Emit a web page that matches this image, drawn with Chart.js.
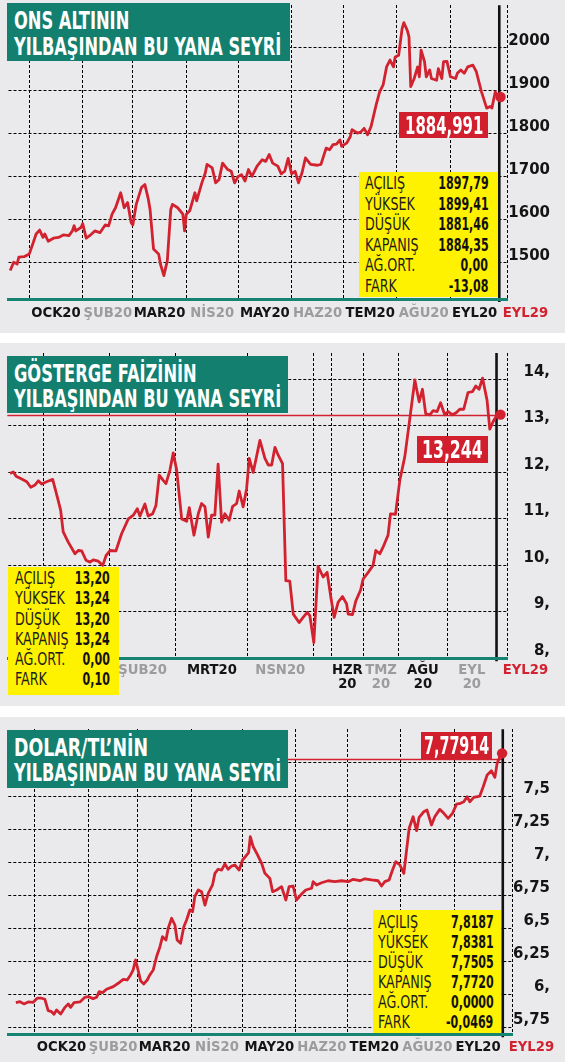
<!DOCTYPE html>
<html><head><meta charset="utf-8">
<script src="https://cdn.jsdelivr.net/npm/chart.js@4.4.1/dist/chart.umd.min.js"></script>
<style>
html,body{margin:0;padding:0;background:#fff;}
#wrap{position:relative;width:565px;height:1062px;overflow:hidden;}
.panel{position:absolute;left:0;width:565px;background:#eaeaec;}
.panel canvas{position:absolute;left:0;top:0;}
.ov{position:absolute;overflow:visible;}
.title{background:#137f6e;}
.yb{background:#fff200;}
.tag{background:#d21f2e;}
.tx{position:absolute;white-space:nowrap;line-height:1;}
</style></head><body>
<div id="wrap">
 <div class="panel" id="p1" style="top:0;height:333px"><canvas id="c1" width="565" height="333"></canvas></div>
 <div class="panel" id="p2" style="top:343px;height:363px"><canvas id="c2" width="565" height="363"></canvas></div>
 <div class="panel" id="p3" style="top:717px;height:345px"><canvas id="c3" width="565" height="345"></canvas></div>
</div>
<script>
// ---------------- DATA ----------------
// Panel 1: ons altın (day index, 0 = 1 Ocak 2020)
const goldDays = [
-11,-9,-7,-6,-3,0,2,4,6,8,
9,11,14,17,20,23,25,26,27,30,
31,33,35,38,41,44,46,48,50,53,
55,57,59,60,62,65,67,69,70,72,
75,76,78,80,82,83,86,89,90,91,
93,96,97,100,102,103,106,108,110,112,
115,117,119,121,123,125,127,129,132,135,
137,139,141,144,146,148,150,152,154,156,
158,160,163,167,169,172,174,176,178,180,
181,184,186,187,190,192,194,196,198,201,
203,205,207,209,211,212,214,216,217,219,
220,221,223,225,226,227,229,230,232,233,
236,237,239,240,242,244,247,248,250,252,
254,257,259,260,262,265,267,268,270,272,
273];
const goldVals = [
1481,1500,1496,1512,1513,1519,1542,1566,1575,1558,
1566,1549,1556,1558,1564,1562,1573,1585,1573,1581,
1590,1556,1562,1573,1569,1587,1585,1612,1627,1662,
1627,1639,1593,1587,1635,1674,1681,1647,1623,1531,
1519,1496,1469,1504,1623,1635,1627,1612,1573,1612,
1620,1662,1643,1685,1708,1728,1720,1685,1693,1731,
1716,1712,1685,1700,1704,1689,1716,1700,1724,1739,
1735,1751,1731,1724,1706,1712,1742,1706,1712,1685,
1708,1743,1728,1726,1728,1766,1762,1774,1775,1785,
1770,1778,1793,1809,1801,1803,1812,1797,1816,1867,
1897,1913,1955,1971,1955,1978,1982,2044,2058,2040,
2025,1909,1928,1955,1932,1994,1967,1932,1948,1928,
1924,1951,1928,1967,1968,1932,1928,1940,1948,1940,
1955,1959,1944,1928,1897,1859,1863,1859,1897,1882,
1884.99];
const goldNow = 272.3;
const goldLastText = '1884,991';
const goldYTicks = [1500,1600,1700,1800,1900,2000];
const goldYLabels = ['1500','1600','1700','1800','1900','2000'];
const goldStats = ['1897,79','1899,41','1881,46','1884,35','0,00','-13,08'];

// month axis shared by panels 1 and 3 (days)
const monthStarts = [0,31,60,91,121,152,182,213,244];
const monthMids = [15.5,45.5,75.5,106,136.5,167,197.5,228.5,258];
const monthLabels = ['OCK20','ŞUB20','MAR20','NİS20','MAY20','HAZ20','TEM20','AĞU20','EYL20'];
const monthShade = ['k','g','k','g','k','g','k','g','k'];

// Panel 2: gösterge faiz (position along its own time axis)
const bondPos = [
-11.0,-9.1,-7.5,-4.8,-1.3,1.0,3.5,5.4,7.3,10.2,
13.7,16.4,18.3,19.8,22.7,26.6,28.5,30.5,33.0,35.3,
37.2,40.1,42.7,44.6,46.9,50.3,53.6,57.5,60.4,62.7,
64.2,67.1,69.0,71.6,73.5,75.4,77.7,79.3,81.6,83.5,
85.5,88.4,91.3,92.8,95.5,98.0,99.9,101.9,103.8,105.7,
107.6,109.5,111.5,113.4,115.9,117.9,120.2,121.7,124.0,126.0,
127.5,129.8,133.7,136.6,138.5,140.5,142.4,144.3,146.8,148.7,
151.0,153.0,156.4,158.7,161.1,162.6,164.9,167.4,170.3,172.6,
174.8,176.7,179.0,181.5,183.9,184.8,187.3,189.2,192.0,193.5,
196.4,199.2,200.8,203.1,205.0,207.9,209.3,212.2,214.7,217.6,
220.9,223.4,225.9,227.8,229.7,232.1,234.0,236.3,238.3,240.7,
242.7,245.2,247.5,249.4,251.7,254.2,256.8,258.7,260.6,262.6,
265.2,266.8,268.7,270.7,273.0];
const bondVals = [
11.98,12.01,11.92,11.87,11.80,11.68,11.73,11.82,11.75,11.80,
11.85,11.47,11.19,10.72,10.50,10.25,10.32,10.31,10.11,10.07,
10.12,10.09,10.00,10.21,10.32,10.31,10.68,11.00,11.08,11.22,
11.06,11.32,11.06,11.11,11.29,11.94,11.83,11.76,12.05,12.42,
12.05,11.00,10.95,11.24,10.65,11.11,11.33,11.26,10.61,11.08,
11.08,12.18,10.93,11.11,10.97,11.27,11.33,11.60,11.26,11.65,
12.30,12.00,12.69,12.30,12.16,12.16,12.54,12.37,12.19,9.67,
9.66,8.95,8.77,8.88,8.99,8.92,8.34,9.98,9.75,9.85,
9.31,8.88,9.21,9.33,9.17,8.95,8.94,9.23,9.47,9.71,
9.85,10.00,10.32,10.25,10.39,10.65,11.11,11.10,11.83,12.34,
13.27,13.99,13.52,13.79,13.26,13.24,13.33,13.31,13.50,13.24,
13.31,13.24,13.29,13.36,13.36,13.72,13.74,13.86,13.79,14.03,
13.56,12.93,13.09,13.22,13.244];
const bondNow = 270.7;
const bondLast = 13.244;
const bondLastText = '13,244';
const bondYTicks = [8,9,10,11,12,13,14];
const bondYLabels = ['8,','9,','10,','11,','12,','13,','14,'];
const bondMonthStarts = [8.3,46.5,85.1,126.6,164.5,175.2,193.5,214.1,242.1];
const bondMonthMids = [65.8,105.9,145.5,184.3,203.8,228.1,256.4];
const bondMonthLabels = ['ŞUB20','MRT20','NSN20',['HZR','20'],['TMZ','20'],['AĞU','20'],['EYL','20']];
const bondMonthShade = ['g','k','g','k','g','k','g'];
const bondStats = ['13,20','13,24','13,20','13,24','0,00','0,10'];

// Panel 3: dolar/TL (days)
const usdDays = [
-11.1,-8.7,-6.4,-3.9,-1.0,1.3,3.9,5.8,7.7,9.7,
11.1,12.6,15.0,17.5,19.4,20.8,22.7,26.2,29.1,31.0,
33.9,35.9,37.4,39.4,41.7,45.6,48.5,51.4,53.7,55.7,
57.2,58.6,59.8,61.5,63.4,65.4,66.9,68.9,70.8,72.8,
74.3,76.3,77.6,79.6,81.5,82.8,84.8,86.7,88.3,90.2,
91.8,93.1,95.1,97.0,99.0,100.9,103.4,104.8,106.7,108.7,
110.6,112.5,114.5,116.4,118.9,120.9,122.8,124.4,125.4,127.1,
129.4,132.0,133.9,136.8,138.4,140.7,143.6,146.1,148.0,150.3,
152.3,154.7,157.7,161.1,162.0,164.0,166.9,170.7,174.6,178.5,
182.4,185.3,189.2,192.1,196.0,199.8,201.8,203.7,206.2,208.2,
210.1,212.5,214.8,216.4,217.9,220.2,222.2,223.7,226.4,228.3,
230.9,232.8,235.7,238.1,240.6,243.1,245.5,247.8,249.7,251.6,
253.2,255.5,259.0,260.9,263.3,265.8,267.8,269.1,270.7,272.0];
const usdVals = [
5.936,5.944,5.927,5.942,5.939,5.970,5.970,5.962,5.876,5.868,
5.849,5.881,5.851,5.901,5.927,5.901,5.936,5.942,5.977,5.982,
5.967,5.977,6.020,6.012,6.038,6.058,6.083,6.113,6.108,6.146,
6.184,6.259,6.197,6.103,6.078,6.108,6.146,6.184,6.284,6.360,
6.436,6.411,6.499,6.575,6.524,6.411,6.386,6.511,6.562,6.638,
6.625,6.738,6.789,6.776,6.675,6.764,6.827,6.915,6.946,6.940,
6.986,6.946,6.970,6.978,6.940,7.016,7.046,7.071,7.192,7.116,
7.061,6.991,6.915,6.877,6.776,6.789,6.814,6.713,6.814,6.819,
6.713,6.751,6.789,6.802,6.852,6.827,6.844,6.859,6.852,6.859,
6.852,6.870,6.859,6.874,6.865,6.859,6.819,6.852,6.865,6.940,
7.003,6.978,6.915,7.092,7.256,7.343,7.238,7.339,7.381,7.394,
7.281,7.343,7.399,7.369,7.331,7.369,7.439,7.445,7.457,7.495,
7.457,7.490,7.500,7.566,7.659,7.691,7.641,7.747,7.797,7.823];
const usdNow = 272.4;
const usdLast = 7.77914;
const usdLastText = '7,77914';
const usdYTicks = [5.75,6,6.25,6.5,6.75,7,7.25,7.5,7.75];
const usdYLabels = ['5,75','6,','6,25','6,5','6,75','7,','7,25','7,5',''];
const usdStats = ['7,8187','7,8381','7,7505','7,7720','0,0000','-0,0469'];

const statNames = ['AÇILIŞ','YÜKSEK','DÜŞÜK','KAPANIŞ','AĞ.ORT.','FARK'];
const endLabel = 'EYL29';

// ---------------- STYLE ----------------
const RED='#d3222f', TEAL='#168473', GRAYTXT='#9c9c9e', BLACKTXT='#141414', GRID='#000';

function detectFamily(){
  const c=document.createElement('canvas').getContext('2d');
  const s='OCK20 ŞUB20 YILBAŞINDAN 1884';
  const w=f=>{c.font=f;return c.measureText(s).width;};
  for(const f of ['Liberation Sans Narrow','DejaVu Sans Condensed','Roboto Condensed','Arial Narrow']){
    const a=w(`bold 40px "${f}", monospace`), b=w(`bold 40px "${f}", serif`);
    if(Math.abs(a-b)<0.01) return f;
  }
  return 'Liberation Sans';
}
const FAMN=detectFamily();
const FAM=`"${FAMN}", "Liberation Sans", Arial, sans-serif`;
Chart.defaults.font.family=FAM;
const mctx=document.createElement('canvas').getContext('2d');
function tw(txt,font){mctx.font=font;return mctx.measureText(txt).width;}
const clamp=(v,a,b)=>Math.max(a,Math.min(b,v));
const FSX=clamp(45/tw('OCK20',`bold 1px ${FAM}`)*1.1,13,18);
const FSY=clamp(38.6/tw('2000',`bold 1px ${FAM}`)*1.08,14,22);

const extras={
  id:'extras',
  beforeDatasetsDraw(chart,args,o){
    const {ctx,chartArea:a,scales:{x,y}}=chart;
    if(o.refY!=null){
      const py=Math.round(y.getPixelForValue(o.refY))+0.5;
      ctx.save();ctx.strokeStyle=RED;ctx.lineWidth=1.4;ctx.beginPath();
      ctx.moveTo(a.left-1,py);ctx.lineTo(x.getPixelForValue(o.refTo),py);ctx.stroke();ctx.restore();
    }
    const px=x.getPixelForValue(o.markX);
    ctx.save();ctx.strokeStyle='#111';ctx.lineWidth=2.6;ctx.beginPath();
    ctx.moveTo(px,a.top);ctx.lineTo(px,a.bottom+3);ctx.stroke();ctx.restore();
  },
  afterDraw(chart,args,o){
    const {ctx,chartArea:a}=chart;
    ctx.save();ctx.font=`bold ${FSX}px ${FAM}`;ctx.fillStyle=RED;ctx.textAlign='center';ctx.textBaseline='middle';
    ctx.fillText(endLabel,a.right+o.endDx,a.bottom+o.xPad+FSX/2);ctx.restore();
  }
};

const LABEL_RIGHT=550;
function buildChart(o){
  const n=o.xs.length;
  const xPad=o.capOff-FSX/2;
  return new Chart(document.getElementById(o.canvas),{
    type:'line',
    data:{datasets:[{data:o.xs.map((x,i)=>({x,y:o.ys[i]})),borderColor:RED,borderWidth:2.8,tension:0,
      borderJoinStyle:'round',pointRadius:c=>c.dataIndex===n-1?5.2:0,pointHoverRadius:0,
      pointBackgroundColor:RED,pointBorderWidth:0,clip:false}]},
    options:{responsive:false,animation:false,events:[],devicePixelRatio:1,
      layout:{padding:{left:o.L,top:o.T,right:565-LABEL_RIGHT,bottom:0}},
      plugins:{legend:{display:false},tooltip:{enabled:false},
        extras:{markX:o.markX,refY:o.refY,refTo:o.xs[n-1],endDx:o.endDx,xPad}},
      scales:{
        x:{type:'linear',position:'bottom',min:o.xMin,max:o.xMax,
          grid:{display:false,drawTicks:false},
          border:{display:true,color:TEAL,width:3,z:1},
          afterBuildTicks:s=>{s.ticks=o.labelX.map(v=>({value:v}));},
          afterFit:s=>{s.height=o.H-o.B;s.paddingLeft=0;s.paddingRight=0;},
          ticks:{autoSkip:false,maxRotation:0,minRotation:0,padding:xPad,
            callback:(v,i)=>o.labelTexts[i],
            color:c=>o.labelShade[c.index]==='k'?BLACKTXT:GRAYTXT,
            font:{family:FAM,size:FSX,weight:'bold',lineHeight:1}}},
        xg:{type:'linear',position:'top',min:o.xMin,max:o.xMax,
          grid:{display:true,color:GRID,lineWidth:1,drawTicks:false},
          border:{display:false,dash:[3,2]},
          ticks:{display:false},
          afterBuildTicks:s=>{s.ticks=o.gridX.concat([o.xMax]).map(v=>({value:v}));},
          afterFit:s=>{s.height=0;s.paddingLeft=0;s.paddingRight=0;}},
        y:{type:'linear',position:'right',min:o.yMin,max:o.yMax,
          grid:{color:GRID,lineWidth:1,drawTicks:false},
          border:{display:false,dash:[3,2]},
          afterBuildTicks:s=>{s.ticks=o.yTicks.map(v=>({value:v}));},
          afterFit:s=>{s.width=LABEL_RIGHT-o.R;s.paddingTop=0;s.paddingBottom=0;},
          ticks:{autoSkip:false,crossAlign:'far',padding:2,labelOffset:o.yOff,color:BLACKTXT,
            font:{family:FAM,size:FSY,weight:'bold'},callback:(v,i)=>o.yLabels[i]}}
      }},
    plugins:[extras]
  });
}

buildChart({canvas:'c1',xs:goldDays,ys:goldVals,H:333,L:8.5,T:3,R:507.4,B:299,
  xMin:-12,xMax:277,yMin:1414.5,yMax:2098.7,yTicks:goldYTicks,yLabels:goldYLabels,yOff:-7,
  gridX:monthStarts,labelX:monthMids,labelTexts:monthLabels,labelShade:monthShade,
  capOff:13.7,markX:goldNow,refY:null,endDx:18});
buildChart({canvas:'c2',xs:bondPos,ys:bondVals,H:363,L:8.3,T:10,R:507.4,B:315.3,
  xMin:-12,xMax:277,yMin:8,yMax:14.57,yTicks:bondYTicks,yLabels:bondYLabels,yOff:-8,
  gridX:bondMonthStarts,labelX:bondMonthMids,labelTexts:bondMonthLabels,labelShade:bondMonthShade,
  capOff:11.7,markX:bondNow,refY:bondLast,endDx:18});
buildChart({canvas:'c3',xs:usdDays,ys:usdVals,H:345,L:8.3,T:12.3,R:512.4,B:317.3,
  xMin:-15.5,xMax:278,yMin:5.697,yMax:8.005,yTicks:usdYTicks,yLabels:usdYLabels,yOff:-7.5,
  gridX:monthStarts,labelX:monthMids,labelTexts:monthLabels,labelShade:monthShade,
  capOff:12.4,markX:usdNow,refY:usdLast,endDx:19});

// ---------------- OVERLAYS ----------------
function box(panel,cls,l,t,w,h){
  const d=document.createElement('div');d.className='ov '+cls;
  Object.assign(d.style,{left:l+'px',top:t+'px',width:w+'px',height:h+'px'});
  document.getElementById(panel).appendChild(d);return d;
}
function text(parent,str,opt){
  const s=document.createElement('span');s.className='tx';s.textContent=str;
  Object.assign(s.style,{fontFamily:FAM,fontSize:opt.fs+'px',fontWeight:opt.weight||700,color:opt.color,top:opt.top+'px'});
  if(opt.right!=null){s.style.right=opt.right+'px';s.style.transformOrigin='100% 0';}
  else {s.style.left=(opt.left||0)+'px';s.style.transformOrigin='0 0';}
  parent.appendChild(s);
  let k=opt.k;
  if(opt.target){k=opt.target/s.getBoundingClientRect().width;}
  if(opt.center!=null){s.style.left=(opt.center-opt.target/2)+'px';}
  if(k) s.style.transform=`scaleX(${k})`;
  return s;
}
const TFS=25;
function title(panel,l,t,w,h,lines){
  const b=box(panel,'title',l,t,w,h);
  text(b,lines[0][0],{fs:TFS,color:'#fff',left:6.5,top:5.1,target:lines[0][1]});
  text(b,lines[1][0],{fs:TFS,color:'#fff',left:6.5,top:30.4,target:lines[1][1]});
}
title('p1',7.2,3.3,282.8,57.7,[['ONS ALTININ',115.3],['YILBAŞINDAN BU YANA SEYRİ',267.3]]);
title('p2',7.2,13,280.4,56.5,[['GÖSTERGE FAİZİNİN',182.7],['YILBAŞINDAN BU YANA SEYRİ',267.3]]);
title('p3',7.2,13,280.4,57.7,[['DOLAR/TL’NİN',134],['YILBAŞINDAN BU YANA SEYRİ',267.3]]);

const IFS=17.5;
const kLab=clamp(40/tw('AÇILIŞ',`400 ${IFS}px ${FAM}`),0.5,1.1);
const kVal=clamp(35/tw('13,20',`700 ${IFS}px ${FAM}`),0.5,1.05);
function info(panel,l,t,w,h,padL,padR,step,vals){
  const b=box(panel,'yb',l,t,w,h);
  statNames.forEach((nm,i)=>{
    text(b,nm,{fs:IFS,weight:400,color:'#1d1d1d',left:padL,top:3.5+i*step,k:kLab});
    text(b,vals[i],{fs:IFS,weight:700,color:'#111',right:padR,top:3.5+i*step,k:kVal});
  });
}
info('p1',358.6,171.7,139.7,125.8,6,10,20.5,goldStats);
info('p2',8.3,223.7,110.7,128.3,6.7,9,20.2,bondStats);
info('p3',373.3,193,128,122.8,5,8,20,usdStats);

function tag(panel,l,t,w,h,str,target){
  const b=box(panel,'tag',l,t,w,h);
  text(b,str,{fs:25.5,color:'#fff',top:1.2,target,center:w/2});
}
tag('p1',399,112.3,89.3,26,goldLastText,78.3);
tag('p2',416.7,93,71,26.7,bondLastText,60.7);
tag('p3',421,15.3,70.7,26.7,usdLastText,65.3);
</script>
</body></html>
